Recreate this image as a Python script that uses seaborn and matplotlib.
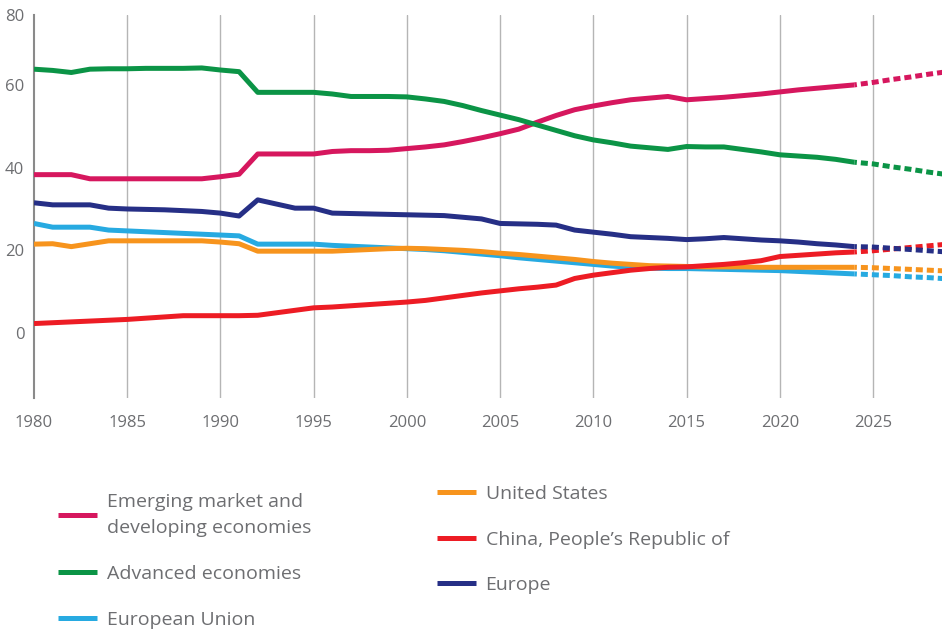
import numpy as np
import pandas as pd
import matplotlib
matplotlib.use("Agg")
import matplotlib.pyplot as plt
import seaborn as sns

# data (share of world GDP, %)
years = list(range(1980, 2025))
proj_years = list(range(2024, 2030))

emerging = [38.3, 38.3, 38.3, 37.3, 37.3, 37.3, 37.3, 37.3, 37.3, 37.3,
            37.8, 38.4, 43.3, 43.3, 43.3, 43.3, 43.9, 44.1, 44.1, 44.2,
            44.6, 45.0, 45.5, 46.3, 47.2, 48.2, 49.3, 51.0, 52.6, 54.0,
            54.9, 55.7, 56.4, 56.8, 57.2, 56.4, 56.7, 57.0, 57.4, 57.8,
            58.3, 58.8, 59.2, 59.6, 60.0]
emerging_proj = [60.0, 60.6, 61.3, 61.9, 62.6, 63.2]

advanced = [63.8, 63.5, 63.0, 63.8, 63.9, 63.9, 64.0, 64.0, 64.0, 64.1,
            63.6, 63.2, 58.2, 58.2, 58.2, 58.2, 57.8, 57.2, 57.2, 57.2,
            57.1, 56.6, 56.0, 55.0, 53.8, 52.7, 51.6, 50.3, 49.0, 47.7,
            46.7, 46.0, 45.2, 44.8, 44.4, 45.1, 45.0, 45.0, 44.4, 43.8,
            43.1, 42.8, 42.5, 42.0, 41.3]
advanced_proj = [41.3, 40.9, 40.2, 39.6, 38.9, 38.3]

eu = [26.5, 25.6, 25.6, 25.6, 24.9, 24.7, 24.5, 24.3, 24.1, 23.9,
      23.7, 23.5, 21.5, 21.5, 21.5, 21.5, 21.2, 21.0, 20.8, 20.6,
      20.4, 20.2, 19.9, 19.5, 19.1, 18.7, 18.2, 17.8, 17.4, 17.0,
      16.6, 16.2, 15.9, 15.7, 15.6, 15.6, 15.5, 15.4, 15.3, 15.2,
      15.1, 14.9, 14.7, 14.5, 14.3]
eu_proj = [14.3, 14.1, 13.9, 13.6, 13.4, 13.1]

us = [21.5, 21.6, 20.9, 21.6, 22.3, 22.3, 22.3, 22.3, 22.3, 22.3,
      22.0, 21.6, 19.8, 19.8, 19.8, 19.8, 19.8, 20.0, 20.2, 20.4,
      20.5, 20.4, 20.2, 20.0, 19.7, 19.3, 19.0, 18.6, 18.2, 17.8,
      17.3, 16.9, 16.6, 16.3, 16.2, 16.1, 16.0, 16.0, 16.0, 15.9,
      15.9, 15.9, 15.9, 15.9, 15.9]
us_proj = [15.9, 15.8, 15.6, 15.4, 15.2, 15.0]

china = [2.3, 2.5, 2.7, 2.9, 3.1, 3.3, 3.6, 3.9, 4.2, 4.2,
         4.2, 4.2, 4.3, 4.9, 5.5, 6.1, 6.3, 6.6, 6.9, 7.2,
         7.5, 7.9, 8.5, 9.1, 9.7, 10.2, 10.7, 11.1, 11.6, 13.2,
         14.0, 14.6, 15.2, 15.6, 15.9, 16.0, 16.3, 16.6, 17.0, 17.5,
         18.5, 18.8, 19.1, 19.4, 19.6]
china_proj = [19.6, 19.9, 20.3, 20.7, 21.1, 21.5]

europe = [31.5, 31.0, 31.0, 31.0, 30.2, 30.0, 29.9, 29.8, 29.6, 29.4,
          29.0, 28.3, 32.2, 31.2, 30.2, 30.2, 29.0, 28.9, 28.8, 28.7,
          28.6, 28.5, 28.4, 28.0, 27.6, 26.5, 26.4, 26.3, 26.1, 24.9,
          24.4, 23.9, 23.3, 23.1, 22.9, 22.6, 22.8, 23.1, 22.8, 22.5,
          22.3, 22.0, 21.6, 21.3, 20.9]
europe_proj = [20.9, 20.8, 20.5, 20.2, 19.9, 19.6]

names = ["Emerging market and\ndeveloping economies", "Advanced economies",
         "European Union", "United States", "China, People\u2019s Republic of",
         "Europe"]
colors = ["#d6175e", "#0b9446", "#27aae1", "#f7941d", "#ed1c24", "#262f86"]
actual = [emerging, advanced, eu, us, china, europe]
projected = [emerging_proj, advanced_proj, eu_proj, us_proj, china_proj, europe_proj]

sns.set_style("white")
plt.rcParams["font.family"] = ["Open Sans", "DejaVu Sans"]
text_gray = "#6d6e71"

fig = plt.figure(figsize=(9.42, 6.29), dpi=100)
ax = fig.add_axes([34 / 942, (629 - 398) / 629, 1 - 34 / 942, (398 - 15) / 629])

# grid first so lines sit on top
for yr in range(1985, 2030, 5):
    ax.axvline(yr, color="#b5b5b5", linewidth=1.0, zorder=0)

handles = []
for name, col, vals, pvals in zip(names, colors, actual, projected):
    df = pd.DataFrame({"year": years, "value": vals})
    sns.lineplot(data=df, x="year", y="value", color=col, linewidth=3.6,
                 ax=ax, zorder=3, solid_capstyle="butt")
    handles.append(ax.lines[-1])
    pdf = pd.DataFrame({"year": proj_years, "value": pvals})
    sns.lineplot(data=pdf, x="year", y="value", color=col, linewidth=3.6,
                 ax=ax, zorder=3, linestyle=(0.9, (1.4, 0.8)))

top = 76.9
ax.set_xlim(1980, 2028.7)
ax.set_ylim(-15.7, top)
ax.set_xticks(range(1980, 2030, 5))
ax.set_yticks([0, 20, 40, 60, top])
ax.set_yticklabels(["0", "20", "40", "60", "80"])
ax.tick_params(axis="both", length=0, labelsize=12, labelcolor=text_gray)
ax.tick_params(axis="x", pad=12)
ax.tick_params(axis="y", pad=7)
ax.set_xlabel("")
ax.set_ylabel("")
for side in ["top", "right", "bottom"]:
    ax.spines[side].set_visible(False)
ax.spines["left"].set_color("#8a8a8a")
ax.spines["left"].set_linewidth(1.5)

# two legend columns, placed separately like the reference
leg_kw = dict(frameon=False, fontsize=14, handlelength=2.0, handletextpad=0.5,
              labelspacing=1.42, labelcolor=text_gray, borderpad=0,
              borderaxespad=0, loc="upper left")
leg1 = fig.legend(handles[:3], names[:3], bbox_to_anchor=(58 / 942, 1 - 493 / 629), **leg_kw)
for t in leg1.get_texts():
    t.set_linespacing(1.6)
leg2 = fig.legend(handles[3:], names[3:], bbox_to_anchor=(437 / 942, 1 - 485 / 629), **leg_kw)

fig.savefig("out.png", dpi=100)
